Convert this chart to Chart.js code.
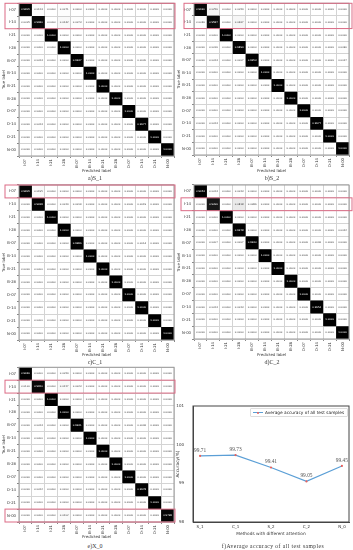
<!DOCTYPE html>
<html>
<head>
<meta charset="utf-8">
<title>confusion matrices</title>
<script src="https://cdn.jsdelivr.net/npm/chart.js@4/dist/chart.umd.min.js"></script>
<style>
html, body { margin: 0; padding: 0; background: #fff; }
body { position: relative; width: 353px; height: 550px; overflow: hidden; }
canvas { position: absolute; }
.caption { position: absolute; transform: translate(-50%, -50%); font: 6px "Liberation Serif", serif; color: #333; white-space: nowrap; }
#legend { position: absolute; left: 250px; top: 408px; width: 96px; height: 7px; border: 1px solid #ddd; border-radius: 1px; box-sizing: content-box; font: 4.3px "DejaVu Sans", sans-serif; color: #222; line-height: 7px; white-space: nowrap; }
#legend i { position: absolute; left: 2px; top: 3px; width: 10px; height: 1px; background: #5b9fd6; }
#legend b { position: absolute; left: 5.5px; top: 2.5px; width: 2px; height: 2px; background: #e8605c; border-radius: 1px; }
#legend span { position: absolute; left: 14px; top: 0; }
</style>
</head>
<body>

<canvas id="matrixA"></canvas>
<canvas id="matrixB"></canvas>
<canvas id="matrixC"></canvas>
<canvas id="matrixD"></canvas>
<canvas id="matrixE"></canvas>
<canvas id="accuracy"></canvas>

<div class="caption" style="left:95px;top:178px">a)S_1</div>
<div class="caption" style="left:272px;top:178px">b)S_2</div>
<div class="caption" style="left:95px;top:362px">c)C_1</div>
<div class="caption" style="left:272px;top:362px">d)C_2</div>
<div class="caption" style="left:95px;top:546px">e)X_0</div>
<div class="caption" style="left:273px;top:546px;letter-spacing:.45px;font-size:5.6px">f)Average accuracy of all test samples</div>

<div id="legend"><i></i><b></b><span>Average accuracy of all test samples</span></div>

<script>
// data

const classLabels = ["I-07","I-14","I-21","I-28","B-07","B-14","B-21","B-28","O-07","O-14","O-21","N-00"];

const matrixS1 = [
  [0.9805,0.0124,0,0.0071,0,0,0,0,0,0,0,0],
  [0.0005,0.9680,0,0.0242,0.0073,0,0,0,0,0,0,0],
  [0,0,1,0,0,0,0,0,0,0,0,0],
  [0,0,0,1,0,0,0,0,0,0,0,0],
  [0,0.0023,0,0,0.9947,0,0,0,0,0.0030,0,0],
  [0,0,0,0,0,1,0,0,0,0,0,0],
  [0,0,0,0,0,0,1,0,0,0,0,0],
  [0,0,0,0,0,0,0,1,0,0,0,0],
  [0,0,0,0,0,0,0,0,1,0,0,0],
  [0,0.0023,0,0,0,0,0,0,0,0.9977,0,0],
  [0,0,0,0,0,0,0,0,0,0,1,0],
  [0,0,0,0,0,0,0,0,0,0,0,1]
];

const matrixS2 = [
  [0.9690,0.0256,0,0.0054,0,0,0,0,0,0,0,0],
  [0.0046,0.9587,0,0.0367,0,0,0,0,0,0,0,0],
  [0,0,1,0,0,0,0,0,0,0,0,0],
  [0,0.0016,0,0.9894,0,0,0,0,0,0,0,0.0090],
  [0,0.0023,0,0.0007,0.9953,0,0,0,0,0,0,0.0017],
  [0,0,0,0,0,1,0,0,0,0,0,0],
  [0,0,0,0,0,0,1,0,0,0,0,0],
  [0,0,0,0,0,0,0,1,0,0,0,0],
  [0,0,0,0,0,0,0,0,1,0,0,0],
  [0,0.0023,0,0,0,0,0,0,0,0.9977,0,0],
  [0,0,0,0,0,0,0,0,0,0,1,0],
  [0,0,0,0,0,0,0,0,0,0,0,1]
];

const matrixC1 = [
  [0.9805,0.0195,0,0,0,0,0,0,0,0,0,0],
  [0,0.9938,0,0.0024,0.0019,0,0,0,0,0.0019,0,0],
  [0,0,1,0,0,0,0,0,0,0,0,0],
  [0,0,0,1,0,0,0,0,0,0,0,0],
  [0,0,0,0,0.9986,0,0,0,0,0.0014,0,0],
  [0,0,0,0,0,1,0,0,0,0,0,0],
  [0,0,0,0,0,0,1,0,0,0,0,0],
  [0,0,0,0,0,0,0,1,0,0,0,0],
  [0,0,0,0,0,0,0,0,1,0,0,0],
  [0,0,0,0,0,0,0,0,0,1,0,0],
  [0,0,0,0,0,0,0,0,0,0,1,0],
  [0,0,0,0,0,0,0,0,0,0,0,1]
];

const matrixC2 = [
  [0.9954,0.0023,0,0.0023,0,0,0,0,0,0,0,0],
  [0,0.9096,0,0.0818,0.0086,0,0,0,0,0,0,0],
  [0,0,1,0,0,0,0,0,0,0,0,0],
  [0,0,0,0.9978,0,0,0,0,0,0,0,0.0022],
  [0,0.0007,0,0.0007,0.9940,0,0,0,0,0.0046,0,0],
  [0,0,0,0,0,1,0,0,0,0,0,0],
  [0,0,0,0,0,0,1,0,0,0,0,0],
  [0,0,0,0,0,0,0,1,0,0,0,0],
  [0,0,0,0,0,0,0,0,1,0,0,0],
  [0,0.0023,0,0.0023,0,0,0,0,0,0.9954,0,0],
  [0,0,0,0,0,0,0,0,0,0,1,0],
  [0,0,0,0,0,0,0,0,0,0,0,1]
];

const matrixX0 = [
  [0.9946,0,0,0.0054,0,0,0,0,0,0,0,0],
  [0.0100,0.9650,0,0.0227,0.0023,0,0,0,0,0,0,0],
  [0,0,1,0,0,0,0,0,0,0,0,0],
  [0,0,0,1,0,0,0,0,0,0,0,0],
  [0,0.0023,0,0,0.9931,0,0,0,0,0.0046,0,0],
  [0,0,0,0,0,1,0,0,0,0,0,0],
  [0,0,0,0,0,0,1,0,0,0,0,0],
  [0,0,0,0,0,0,0,1,0,0,0,0],
  [0,0,0,0,0,0,0,0,1,0,0,0],
  [0,0.0022,0,0,0,0,0,0,0,0.9978,0,0],
  [0,0,0,0,0,0,0,0,0,0,1,0],
  [0,0,0,0.0202,0,0,0,0,0,0,0,0.9798]
];

const methods = ["S_1","C_1","S_2","C_2","N_0"];
const accuracy = [99.71,99.73,99.41,99.05,99.45];
const accuracyTicks = [98,99,100,101];

// panels, page coordinates

const panels = [
  {id:"matrixA", values:matrixS1, left:2, right:176, top:0, bottom:173, plotL:19, plotR:174, plotT:2, plotB:156, boxL:5, boxR:175, boxes:[[0,1]]},
  {id:"matrixB", values:matrixS2, left:177, right:353, top:0, bottom:173, plotL:194, plotR:349, plotT:2, plotB:155, boxL:184, boxR:352, boxes:[[0,1]]},
  {id:"matrixC", values:matrixC1, left:2, right:176, top:180, bottom:357, plotL:19, plotR:174, plotT:185, plotB:340, boxL:5, boxR:175, boxes:[[0,0]]},
  {id:"matrixD", values:matrixC2, left:177, right:353, top:180, bottom:357, plotL:194, plotR:349, plotT:185, plotB:339, boxL:181, boxR:352, boxes:[[1,1]]},
  {id:"matrixE", values:matrixX0, left:2, right:176, top:364, bottom:539, plotL:19, plotR:174, plotT:367, plotB:522, boxL:5, boxR:175, boxes:[[1,1],[11,11]]}
];

Chart.defaults.font.family = '"DejaVu Sans", sans-serif';
Chart.defaults.animation = false;

function place(canvas, p){
  canvas.width = p.right - p.left;
  canvas.height = p.bottom - p.top;
  canvas.style.left = p.left + "px";
  canvas.style.top = p.top + "px";
}

// frame + cell text + red boxes

const matrixExtras = {
  id: "matrixExtras",
  afterDatasetsDraw(chart, args, opts){
    let ctx = chart.ctx;
    let area = chart.chartArea;
    ctx.save();
    ctx.font = '2.5px "DejaVu Sans", sans-serif';
    ctx.textAlign = "center";
    ctx.textBaseline = "middle";
    chart.getDatasetMeta(0).data.forEach((pt, i) => {
      let v = chart.data.datasets[0].data[i].v;
      ctx.fillStyle = v > 0.5 ? "#fff" : "#333";
      ctx.fillText(v.toFixed(4), pt.x, pt.y);
    });
    ctx.strokeStyle = "#999";
    ctx.lineWidth = 1;
    ctx.strokeRect(area.left, area.top, area.width, area.height);
    ctx.restore();
  },
  afterDraw(chart, args, opts){
    let ctx = chart.ctx;
    let y = chart.scales.y;
    let half = (chart.chartArea.height / 12) / 2;
    ctx.save();
    ctx.strokeStyle = "#dc6b85";
    ctx.lineWidth = 1;
    opts.boxes.forEach(b => {
      let top = y.getPixelForValue(b[0]) - half;
      let bot = y.getPixelForValue(b[1]) + half;
      ctx.strokeRect(opts.x0, top, opts.x1 - opts.x0, bot - top);
    });
    ctx.restore();
  }
};

function renderMatrix(p){
  let canvas = document.getElementById(p.id);
  place(canvas, p);

  let cells = [];
  p.values.forEach((row, r) => row.forEach((v, c) => {
    cells.push({x: classLabels[c], y: classLabels[r], v: v});
  }));

  let tickFont = {size: 3.8};
  let titleFont = {size: 3.9};

  new Chart(canvas, {
    type: "scatter",
    data: {
      datasets: [{
        data: cells,
        pointStyle: "rect",
        pointBorderWidth: 0,
        pointRadius: c => c.chart.chartArea ? (c.chart.chartArea.width / 12) / Math.SQRT2 : 0,
        pointBackgroundColor: c => "rgba(0,0,0," + (c.raw ? c.raw.v : 0) + ")"
      }]
    },
    plugins: [matrixExtras],
    options: {
      responsive: false,
      layout: {padding: {left: 0, right: p.right - p.plotR, top: p.plotT - p.top, bottom: 0}},
      plugins: {
        legend: {display: false},
        tooltip: {enabled: false},
        matrixExtras: {boxes: p.boxes, x0: p.boxL - p.left, x1: p.boxR - p.left}
      },
      scales: {
        x: {
          type: "category",
          labels: classLabels,
          offset: true,
          grid: {offset: true, color: "#d4d4d4", lineWidth: 1, tickLength: 2, tickColor: "#888"},
          border: {display: false},
          ticks: {autoSkip: false, minRotation: 90, maxRotation: 90, padding: 1, color: "#333", font: tickFont},
          title: {display: true, text: "Predicted label", color: "#333", font: titleFont, padding: 0},
          afterFit(s){ s.height = p.bottom - p.plotB; }
        },
        y: {
          type: "category",
          labels: classLabels,
          offset: true,
          grid: {offset: true, color: "#d4d4d4", lineWidth: 1, tickLength: 2, tickColor: "#888"},
          border: {display: false},
          ticks: {autoSkip: false, padding: 1, color: "#333", font: tickFont},
          title: {display: true, text: "True label", color: "#333", font: titleFont, padding: 0},
          afterFit(s){ s.width = p.plotL - p.left; }
        }
      }
    }
  });
}

panels.forEach(renderMatrix);

// line chart

const linePanel = {left:175, right:353, top:402, bottom:536, plotL:193, plotR:351, plotT:406, plotB:522};

const lineExtras = {
  id: "lineExtras",
  afterDatasetsDraw(chart){
    let ctx = chart.ctx;
    let area = chart.chartArea;
    ctx.save();
    ctx.font = '5.4px "Liberation Serif", serif';
    ctx.fillStyle = "#555";
    ctx.textAlign = "center";
    ctx.textBaseline = "bottom";
    chart.getDatasetMeta(0).data.forEach((pt, i) => {
      ctx.fillText(accuracy[i].toFixed(2), pt.x, pt.y - 3);
    });
    ctx.strokeStyle = "#444";
    ctx.lineWidth = 1;
    ctx.strokeRect(area.left, area.top, area.width, area.height);
    ctx.restore();
  }
};

let lineCanvas = document.getElementById("accuracy");
place(lineCanvas, linePanel);

new Chart(lineCanvas, {
  type: "line",
  data: {
    datasets: [{
      label: "Average accuracy of all test samples",
      data: accuracy.map((v, i) => ({x: i, y: v})),
      borderColor: "#5b9fd6",
      borderWidth: 1.2,
      tension: 0,
      pointRadius: 1.1,
      pointBackgroundColor: "#e8605c",
      pointBorderWidth: 0
    }]
  },
  plugins: [lineExtras],
  options: {
    responsive: false,
    layout: {padding: {left: 0, right: linePanel.right - linePanel.plotR, top: linePanel.plotT - linePanel.top, bottom: 0}},
    plugins: {legend: {display: false}, tooltip: {enabled: false}},
    scales: {
      x: {
        type: "linear",
        min: -0.2,
        max: 4.2,
        grid: {display: false, drawTicks: true, tickLength: 2},
        border: {color: "#444"},
        afterBuildTicks(s){ s.ticks = methods.map((m, i) => ({value: i})); },
        ticks: {padding: 1, color: "#333", font: {size: 4}, maxRotation: 0, callback: v => methods[v]},
        title: {display: true, text: "Methods with different attention", color: "#333", font: {size: 4.3}, padding: 0},
        afterFit(s){ s.height = linePanel.bottom - linePanel.plotB; }
      },
      y: {
        min: 98,
        max: 101,
        grid: {display: false},
        border: {color: "#444"},
        afterBuildTicks(s){ s.ticks = accuracyTicks.map(v => ({value: v})); },
        ticks: {padding: 1, color: "#333", font: {size: 4}},
        title: {display: true, text: "Accuracy(%)", color: "#333", font: {size: 4.3}, padding: 0},
        afterFit(s){ s.width = linePanel.plotL - linePanel.left; }
      }
    }
  }
});
</script>
</body>
</html>
